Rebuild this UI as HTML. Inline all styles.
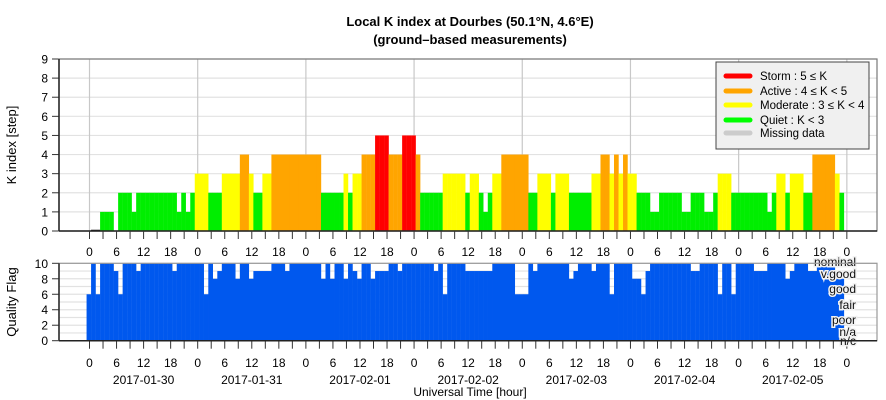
<!DOCTYPE html>
<html><head><meta charset="utf-8"><style>
body{margin:0;background:#fff;}
svg{display:block;font-family:"Liberation Sans",sans-serif;}
</style></head><body>
<svg id="chart" width="886" height="400" viewBox="0 0 886 400" xmlns="http://www.w3.org/2000/svg">
<text x="470" y="26" text-anchor="middle" font-size="13" font-weight="bold">Local K index at Dourbes (50.1°N, 4.6°E)</text>
<text x="470" y="44" text-anchor="middle" font-size="13" font-weight="bold">(ground–based measurements)</text>
<g id="topG"></g>
<g id="botG"></g>
<text transform="translate(16,145) rotate(-90)" text-anchor="middle" font-size="13">K index [step]</text>
<text transform="translate(16,302) rotate(-90)" text-anchor="middle" font-size="13">Quality Flag</text>
<text x="470" y="396" text-anchor="middle" font-size="12">Universal Time [hour]</text>
<g>
<rect x="716" y="62" width="153" height="87" fill="#f0f0f0" stroke="#444" stroke-width="1"/>
<line x1="726" y1="76" x2="750" y2="76" stroke="#ff0000" stroke-width="5" stroke-linecap="round"/>
<text x="760" y="80" font-size="11.5">Storm : 5 ≤ K</text>
<line x1="726" y1="91" x2="750" y2="91" stroke="#ffa500" stroke-width="5" stroke-linecap="round"/>
<text x="760" y="95" font-size="11.5">Active : 4 ≤ K &lt; 5</text>
<line x1="726" y1="105" x2="750" y2="105" stroke="#ffff00" stroke-width="5" stroke-linecap="round"/>
<text x="760" y="109" font-size="11.5">Moderate : 3 ≤ K &lt; 4</text>
<line x1="726" y1="120" x2="750" y2="120" stroke="#00ff00" stroke-width="5" stroke-linecap="round"/>
<text x="760" y="124" font-size="11.5">Quiet : K &lt; 3</text>
<line x1="726" y1="133" x2="750" y2="133" stroke="#cccccc" stroke-width="5" stroke-linecap="round"/>
<text x="760" y="137" font-size="11.5">Missing data</text>
</g>
</svg>
<script>
const kValues=[0,0,1,1,1,0,2,2,2,1,2,2,2,2,2,2,2,2,2,1,2,1,2,3,3,3,2,2,2,3,3,3,3,4,4,3,2,2,3,3,
4,4,4,4,4,4,4,4,4,4,4,2,2,2,2,2,3,2,3,3,4,4,4,5,5,5,4,4,4,5,5,5,4,2,2,2,2,2,3,3,
3,3,3,2,3,3,2,1,2,3,3,4,4,4,4,4,4,2,2,3,3,3,2,3,3,3,2,2,2,2,2,3,3,4,4,3,4,3,4,3,
3,2,2,2,1,1,2,2,2,2,2,1,1,2,2,2,1,1,2,3,3,3,2,2,2,2,2,2,2,2,1,2,3,3,2,3,3,3,2,2,
4,4,4,4,4,3,2];
const qualityStart=-1;
const qualityDips=[[-1,6],[1,6],[5,9],[6,6],[10,9],[18,9],[25,6],[27,8],[28,9],[32,8],[35,8],[36,9],[37,9],[38,9],[39,9],[43,9],[51,8],[53,8],[56,8],[58,9],[59,8],[62,8],[63,9],[64,9],[65,9],[68,9],[76,9],[78,6],
[83,9],[84,9],[85,9],[86,9],[87,9],[88,9],[94,6],[95,6],[96,6],[98,9],[106,8],[107,9],[111,9],[115,6],[120,8],[121,8],[122,6],[123,9],[133,9],[134,9],[139,6],[142,6],[147,9],[148,9],[149,9],[154,8],[155,9],[159,9],[160,9],[165,8],[166,8]];
const qualityEnd=167;
const kTicks=[0,1,2,3,4,5,6,7,8,9];
const qTicks=[0,2,4,6,8,10];
const hourLabels=["0","6","12","18"];
const dateLabels=["2017-01-30","2017-01-31","2017-02-01","2017-02-02","2017-02-03","2017-02-04","2017-02-05"];
const qualityNames=["nominal","v.good","good","fair","poor","n/a","n/c"];

const NS="http://www.w3.org/2000/svg";
const L=59,R=877,T1=59,B1=231,T2=263.3,B2=340.7,X0=89.5,HW=4.508,OFF=0.35;
function x(h){return X0+h*HW;}
function yk(k){return B1-k*(B1-T1)/9;}
function yq(q){return B2-q*(B2-T2)/10;}
function mk(tag,attrs,parent){const e=document.createElementNS(NS,tag);for(const a in attrs)e.setAttribute(a,attrs[a]);parent.appendChild(e);return e;}
function col(k){return k>=5?"#ff0000":k>=4?"#ffa500":k>=3?"#ffff00":"#00ee00";}
const topG=document.getElementById('topG'),botG=document.getElementById('botG');

kTicks.forEach(k=>{
  const g=mk('line',{x1:L,x2:R,y1:yk(k),y2:yk(k),stroke:"#e2e2e2","stroke-width":1.2},topG);
  
  
  const t=mk('text',{x:48,y:yk(k)+4.5,"text-anchor":"end","font-size":12},topG);
  
  
  t.textContent=k;
  mk('line',{x1:52,x2:L,y1:yk(k),y2:yk(k),stroke:"#333"},topG);
});
for(let d=0;d<=7;d++){
  const g=mk('line',{x1:x(d*24),x2:x(d*24),y1:T1,y2:B1,stroke:"#c8c8c8","stroke-width":1.2},topG);
  
  
}
kValues.forEach((k,i)=>{
  if(k<=0)return;
  const r=mk('rect',{x:x(i+OFF),y:yk(k),width:HW+0.2,height:B1-yk(k),fill:col(k)},topG);
  
  
});
mk('line',{x1:x(OFF),x2:x(2+OFF),y1:B1-0.5,y2:B1-0.5,stroke:"#000","stroke-width":1.5},topG);
mk('rect',{x:L,y:T1,width:R-L,height:B1-T1,fill:"none",stroke:"#777","stroke-width":1.2},topG);
mk('line',{x1:L,x2:L,y1:T1,y2:B1,stroke:"#222","stroke-width":1.5},topG);
mk('line',{x1:L,x2:R,y1:B1,y2:B1,stroke:"#222","stroke-width":1.5},topG);
for(let h=0;h<=168;h+=3){
  mk('line',{x1:x(h),x2:x(h),y1:B1,y2:B1+8,stroke:"#333"},topG);
  mk('line',{x1:x(h),x2:x(h),y1:B2,y2:B2+8,stroke:"#333"},botG);
  if(h%6===0){
    const lab=hourLabels[(h/6)%4];
    const t=mk('text',{x:x(h),y:256,"text-anchor":"middle","font-size":12},topG);
    
    
    t.textContent=lab;
    const t2=mk('text',{x:x(h),y:367,"text-anchor":"middle","font-size":12},botG);
    
    
    t2.textContent=lab;
  }
}
dateLabels.forEach((d,i)=>{
  const t=mk('text',{x:x(i*24+12),y:384,"text-anchor":"middle","font-size":12},botG);
  
  
  t.textContent=d;
});
for(let q=0;q<=10;q++){
  mk('line',{x1:L,x2:R,y1:yq(q),y2:yq(q),stroke:"#e2e2e2","stroke-width":1.2},botG);
}
qTicks.forEach(q=>{
  const t=mk('text',{x:48,y:yq(q)+4.5,"text-anchor":"end","font-size":12},botG);
  
  
  t.textContent=q;
  mk('line',{x1:52,x2:L,y1:yq(q),y2:yq(q),stroke:"#333"},botG);
});
const dipMap={};qualityDips.forEach(d=>{dipMap[d[0]]=d[1];});
for(let i=qualityStart;i<qualityEnd;i++){
  const q=(i in dipMap)?dipMap[i]:10;
  const r=mk('rect',{x:x(i+OFF),y:yq(q),width:HW+0.2,height:B2-yq(q),fill:"#0058ee"},botG);
  
  
}
const qy=[262,274,289,305,320,332,341];
qualityNames.forEach((n,i)=>{
  const t=mk('text',{x:856,y:qy[i]+4,"text-anchor":"end","font-size":12,fill:"#111",stroke:"#f2f2f2","stroke-width":3,"paint-order":"stroke"},botG);
  
  
  t.textContent=n;
});
mk('rect',{x:L,y:T2,width:R-L,height:B2-T2,fill:"none",stroke:"#999","stroke-width":1.2},botG);
mk('line',{x1:L,x2:L,y1:T2,y2:B2,stroke:"#222","stroke-width":1.5},botG);
mk('line',{x1:L,x2:R,y1:B2,y2:B2,stroke:"#222","stroke-width":1.5},botG);
</script>
</body></html>
